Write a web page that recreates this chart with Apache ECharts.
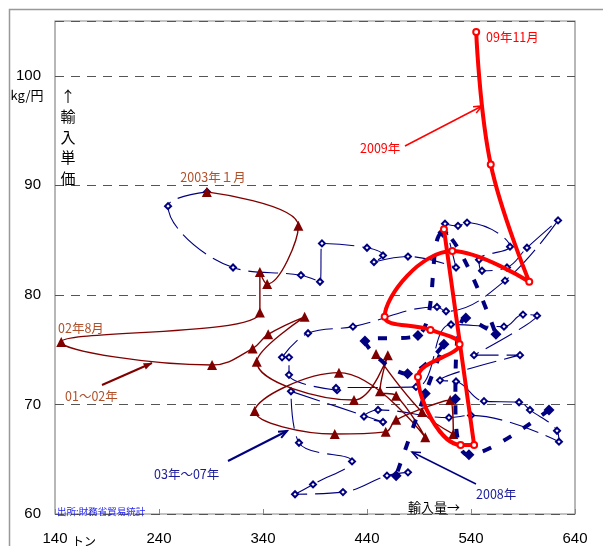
<!DOCTYPE html>
<html><head><meta charset="utf-8">
<script src="https://cdn.jsdelivr.net/npm/echarts@6/dist/echarts.min.js"></script>
<style>html,body{margin:0;padding:0;background:#fff}#c{width:603px;height:546px}</style>
</head><body><div id="c"></div>
<script>
// 2001-2002 (+2003年1月), dark red triangles
const s0102X = [448.7,493,523,520,468,458,409,332,413,496,468,452.5,460,427.5,334,380,345,330,291,146,337,337,344,374,286];
const s0102Y = [74.6,69.3,67.3,70.4,68.6,67.5,67.3,69.4,72.9,67.0,70.8,71.2,74.5,70.4,73.9,78.0,76.4,75.1,73.6,75.7,78.4,82.1,81.0,86.3,89.4];
// 2003-2007, navy hollow diamonds
const s0307X = [286.2,248.7,311.2,376.5,394.8,396.7,440,455.4,446.7,479.4,525.6,515,527.5,536.2,577.5,547.7,550.6,574.6,593.8,623.7,572.7,516,507.3,426.5,383.3,358.3,365,365,411.2,410.2,487.1,520.8,571.7,590,603.5,542.9,587.1,510.2,525.6,552.5,586.2,596.7,622.7,624.6,540,518.8,450.6,437.1,455.4,366.9,374.6,425.6,388.1,370.8,416.9,459.2,479.4];
const s0307Y = [89.4,88.1,82.5,81.8,81.2,84.7,84.3,83.6,83.0,83.5,82.5,86.5,86.3,86.6,84.4,83.2,82.2,82.5,84.3,86.8,81.3,78.5,78.9,77.1,76.5,74.3,74.3,72.7,71.3,71.5,71.6,77.3,77.1,78.2,78.1,74.5,74.5,72.2,72.1,70.3,70.2,69.5,67.6,66.6,69.0,68.8,69.5,68.9,68.4,71.2,66.5,64.8,62.7,61.8,62.0,63.5,63.8];
// 2008, navy thick dashed
const s2008X = [615,538,525,535,564,513,489,438,479,514,496,468];
const s2008Y = [69.5,65.4,70.5,77.9,76.4,85.7,76.3,75.8,72.8,75.5,71.0,63.5];
// 2009 (Jan - Nov), red thick
const s2009X = [514,543,530,489,529,501,457,522,596,559,545];
const s2009Y = [86.0,66.3,66.3,72.5,75.5,76.8,78.0,84.0,81.2,91.9,104.0];
// axis ticks
const xTicks = [140,240,340,440,540,640];
const yTicks = [60,70,80,90,100];

const zip = (a,b)=>a.map((v,i)=>[v,b[i]]);
const NUM = '"Liberation Sans", Arial, sans-serif';
const JP = '"Noto Sans CJK JP", sans-serif';
const DR = '#800000', NAVY = '#000080', RED = '#ff0000', BROWN = '#b0502a';

const chart = echarts.init(document.getElementById('c'));

function arrow(x1,y1,x2,y2,color,w,filled){
  const a = Math.atan2(y2-y1,x2-x1), L=9, s=0.4;
  const p1=[x2-L*Math.cos(a-s), y2-L*Math.sin(a-s)], p2=[x2-L*Math.cos(a+s), y2-L*Math.sin(a+s)];
  const els=[{type:'line',shape:{x1,y1,x2,y2},style:{stroke:color,lineWidth:w},z:100}];
  if(filled) els.push({type:'polygon',shape:{points:[[x2,y2],p1,p2]},style:{fill:color},z:100});
  else els.push({type:'polyline',shape:{points:[p1,[x2,y2],p2]},style:{stroke:color,lineWidth:w,fill:null},z:100});
  return els;
}
function txt(x,y,t,color,size,font,align){
  return {type:'text',x,y,z:100,style:{text:t,fill:color,font:size+'px '+(font||JP),textAlign:align||'left',textVerticalAlign:'middle'}};
}

chart.setOption({
  animation:false,
  backgroundColor:'#fff',
  grid:{left:55,top:21,right:28,bottom:30,show:true,borderColor:'#888',borderWidth:1.2},
  xAxis:{type:'value',min:140,max:640,interval:100,
    axisLine:{show:false},
    axisTick:{show:true,inside:true,length:5,lineStyle:{color:'#888'}},
    axisLabel:{margin:17,color:'#000',fontSize:15,fontFamily:NUM,
      formatter:v=>xTicks.includes(v)?String(v):''},
    splitLine:{show:false}},
  yAxis:{type:'value',min:60,max:105,interval:10,
    axisLine:{show:false},
    axisTick:{show:false},
    axisLabel:{margin:14,color:'#000',fontSize:15,fontFamily:NUM,showMaxLabel:false,
      formatter:v=>yTicks.includes(v)?String(v):''},
    splitLine:{show:true,lineStyle:{color:'#555',type:[9,7],width:1.2}}},
  series:[
    {type:'line',name:'03-07',data:zip(s0307X,s0307Y),smooth:0.4,symbol:'emptyDiamond',symbolSize:6,
      itemStyle:{color:NAVY,borderWidth:1.3},lineStyle:{color:NAVY,width:1.1,type:[30,8]},z:2},
    {type:'line',name:'01-02',data:zip(s0102X,s0102Y),smooth:0.4,symbol:'triangle',symbolSize:10,
      itemStyle:{color:DR},lineStyle:{color:DR,width:1.4},z:3},
    {type:'line',name:'2008',data:zip(s2008X,s2008Y),smooth:0.4,symbol:'diamond',symbolSize:11,
      itemStyle:{color:NAVY},lineStyle:{color:NAVY,width:4,type:[9,14]},z:4},
    {type:'line',name:'2009',data:zip(s2009X,s2009Y),smooth:0.4,symbol:'emptyCircle',symbolSize:6,
      itemStyle:{color:RED,borderWidth:1.4},lineStyle:{color:RED,width:4},z:5}
  ],
  graphic:[
    {type:'rect',shape:{x:9.5,y:9.5,width:700,height:700},style:{stroke:'#999',lineWidth:1.5,fill:null},z:0},
    txt(27,95,'kg/円','#000',13,JP,'center'),
    {type:'text',x:68,y:86,z:100,style:{text:'↑\n輸\n入\n単\n価',fill:'#000',font:'15px '+JP,textAlign:'center',lineHeight:20.5}},
    txt(72,541,'トン','#000',12,JP,'left'),
    txt(57,511,'出所:財務省貿易統計','#2222ee',9.5,JP,'left'),
    txt(486,37,'09年11月',RED,12.5,JP,'left'),
    txt(360,148,'2009年',RED,12.5,JP,'left'),
    ...arrow(405,146,482,106,RED,1.5,false),
    txt(213,177,'2003年１月',BROWN,12.5,JP,'center'),
    txt(58,328,'02年8月',BROWN,12.5,JP,'left'),
    txt(65,396,'01～02年',BROWN,12.5,JP,'left'),
    ...arrow(102,385,152,363,DR,2,true),
    txt(154,474,'03年～07年','#1a1a9a',12.5,JP,'left'),
    ...arrow(228,461,287,431,NAVY,2,false),
    txt(476,494,'2008年','#1a1a9a',12.5,JP,'left'),
    ...arrow(476,484,412,452,NAVY,1.5,false),
    txt(408,507,'輸入量→','#000',13,JP,'left')
  ]
});
</script></body></html>
